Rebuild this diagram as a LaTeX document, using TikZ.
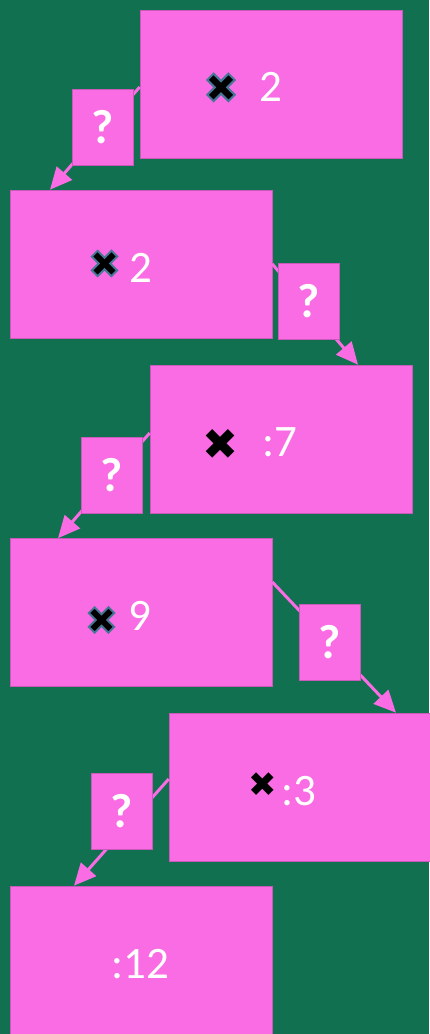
\documentclass[tikz,border=0pt]{standalone}
\usepackage{fontspec}
\setmainfont{Carlito}
\newfontfamily\xfont{DejaVu Sans}
\newfontfamily\xfontbold[FakeBold=5]{DejaVu Sans}
\usetikzlibrary{arrows.meta}
\definecolor{bg}{RGB}{17,112,79}
\definecolor{pinkbox}{RGB}{249,108,227}
\definecolor{pinkedge}{RGB}{200,90,185}
\definecolor{crossedge}{RGB}{70,118,150}
\begin{document}
\begin{tikzpicture}[x=1pt,y=-1pt,
  box/.style={fill=pinkbox, draw=pinkedge, line width=0.6pt, minimum width=262pt, minimum height=148pt, inner sep=0pt},
  qbox/.style={fill=pinkbox, draw=pinkedge, line width=0.6pt, minimum width=61pt, minimum height=76pt, inner sep=0pt, text=white, font=\bfseries\fontsize{48}{50}\selectfont},
  num/.style={text=white, inner sep=0pt, anchor=base west, font=\fontsize{45}{54}\selectfont},
  xmark/.style={text=black, inner sep=0pt, font=\xfont\fontsize{#1}{#1}\selectfont},
  oxmark/.style={text=black, inner sep=0pt, font=\xfontbold\fontsize{#1}{#1}\selectfont},
  link/.style={draw=pinkbox, line width=3pt, -{Triangle[length=22pt,width=20pt]}},
]
\fill[bg] (0,0) rectangle (429,1034);
\useasboundingbox (0,0) rectangle (429,1034);
% boxes
\node[box] (b1) at (271,84) {};
\node[box] (b2) at (141,264) {};
\node[box] (b3) at (281,439) {};
\node[box] (b4) at (141,612.5) {};
\node[box] (b5) at (300,787) {};
\node[box] (b6) at (141,960) {};
% numbers
\node[num] (t1) at (259,101) {2};
\node[num] (t2) at (129,282) {2};
\node[num] (t3) at (262,456) {:7};
\node[num] (t4) at (128,630) {9};
\node[num] (t5) at (281,805) {:3};
\node[num] (t6) at (111,978) {:12};
% crosses
\node[oxmark=41] (x1) at (221,88) {\pgfsetstrokecolor{crossedge}✖};
\node[oxmark=38] (x2) at (104.5,264) {\pgfsetstrokecolor{crossedge}✖};
\node[xmark=43] (x3) at (221,444) {✖};
\node[oxmark=38] (x4) at (101.5,620.5) {\pgfsetstrokecolor{crossedge}✖};
\node[xmark=34] (x5) at (262.5,785) {✖};
% connectors
\draw[link] ([yshift=-3pt]b1.west) -- ([xshift=-91pt]b2.north);
\draw[link] (b2.east) -- ([xshift=77pt]b3.north);
\draw[link] ([yshift=6pt]b3.west) -- ([xshift=-83pt]b4.north);
\draw[link] ([yshift=30.5pt]b4.east) -- ([xshift=96pt]b5.north);
\draw[link] ([yshift=8pt]b5.west) -- ([xshift=-67pt]b6.north);
% labels
\node[qbox] (q1) at (102.5,127) {?};
\node[qbox] (q2) at (309,301) {?};
\node[qbox] (q3) at (112,475.5) {?};
\node[qbox] (q4) at (330,642) {?};
\node[qbox] (q5) at (122,811) {?};
\end{tikzpicture}
\end{document}
